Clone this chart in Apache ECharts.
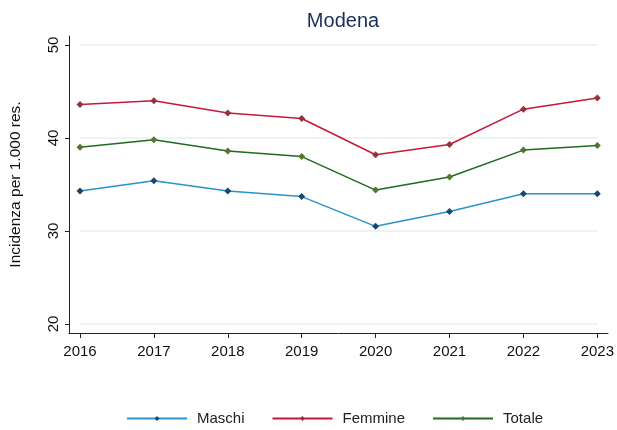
<!DOCTYPE html>
<html>
<head>
<meta charset="utf-8">
<script src="https://cdn.jsdelivr.net/npm/echarts@6/dist/echarts.min.js"></script>
<style>
  html, body { margin: 0; padding: 0; background: #fff; }
  #chart { width: 617px; height: 430px; }
</style>
</head>
<body>
<div id="chart"></div>
<script>
// anni
var anni = ['2016', '2017', '2018', '2019', '2020', '2021', '2022', '2023']
// incidenza per 1.000 residenti
var maschi = [34.3, 35.4, 34.3, 33.7, 30.5, 32.1, 34.0, 34.0]
var femmine = [43.6, 44.0, 42.7, 42.1, 38.2, 39.3, 43.1, 44.3]
var totale = [39.0, 39.8, 38.6, 38.0, 34.4, 35.8, 38.7, 39.2]
var yTicks = [20, 30, 40, 50]

var font = 'Liberation Sans, Arial, sans-serif'

function serie (nome, dati, lineColor, markColor) {
  return {
    name: nome,
    type: 'line',
    data: dati,
    symbol: 'diamond',
    symbolSize: 7,
    showSymbol: true,
    animation: false,
    lineStyle: { color: lineColor, width: 1.5 },
    itemStyle: { color: markColor }
  }
}

var chart = echarts.init(document.getElementById('chart'), null, { renderer: 'canvas' })
chart.setOption({
  backgroundColor: '#fff',
  animation: false,
  title: {
    text: 'Modena',
    left: 338,
    top: 6,
    textAlign: 'center',
    textStyle: { fontFamily: font, fontSize: 20, fontWeight: 'normal', color: '#1a2d5a' }
  },
  legend: {
    top: 406,
    left: 121,
    itemWidth: 60,
    itemHeight: 6,
    itemGap: 27,
    textStyle: { fontFamily: font, fontSize: 15, color: '#222', padding: [0, 0, 0, 5] },
    data: ['Maschi', 'Femmine', 'Totale']
  },
  grid: [
    // area dei dati
    { left: 79, right: 18, top: 45, bottom: 106 },
    // cornice degli assi
    { left: 69, right: 9, top: 36, bottom: 97 }
  ],
  xAxis: [
    {
      type: 'category',
      gridIndex: 0,
      data: anni,
      boundaryGap: false,
      offset: 9,
      axisLine: { show: false },
      axisTick: { show: true, alignWithLabel: true, length: 5, lineStyle: { color: '#222' } },
      axisLabel: { fontFamily: font, fontSize: 15, color: '#111', margin: 11 },
      splitLine: { show: false }
    },
    {
      type: 'value',
      gridIndex: 1,
      axisLine: { show: true, onZero: false, lineStyle: { color: '#222', width: 1 } },
      axisTick: { show: false },
      axisLabel: { show: false },
      splitLine: { show: false }
    }
  ],
  yAxis: [
    {
      type: 'value',
      gridIndex: 0,
      min: yTicks[0],
      max: yTicks[yTicks.length - 1],
      interval: 10,
      name: 'Incidenza per 1.000 res.',
      nameLocation: 'middle',
      nameGap: 46,
      nameTextStyle: { fontFamily: font, fontSize: 15.5, color: '#111' },
      offset: 10,
      axisLine: { show: false },
      axisTick: { show: true, length: 5, lineStyle: { color: '#222' } },
      axisLabel: { fontFamily: font, fontSize: 15, color: '#111', rotate: 90, margin: 9 },
      splitLine: { show: true, lineStyle: { color: '#e6eff1', width: 1.5 } }
    },
    {
      type: 'value',
      gridIndex: 1,
      axisLine: { show: true, onZero: false, lineStyle: { color: '#222', width: 1 } },
      axisTick: { show: false },
      axisLabel: { show: false },
      splitLine: { show: false }
    }
  ],
  series: [
    serie('Maschi', maschi, '#2a93c9', '#1a476f'),
    serie('Femmine', femmine, '#c8173d', '#90353b'),
    serie('Totale', totale, '#1f6b1f', '#55752f')
  ]
})
</script>
</body>
</html>
